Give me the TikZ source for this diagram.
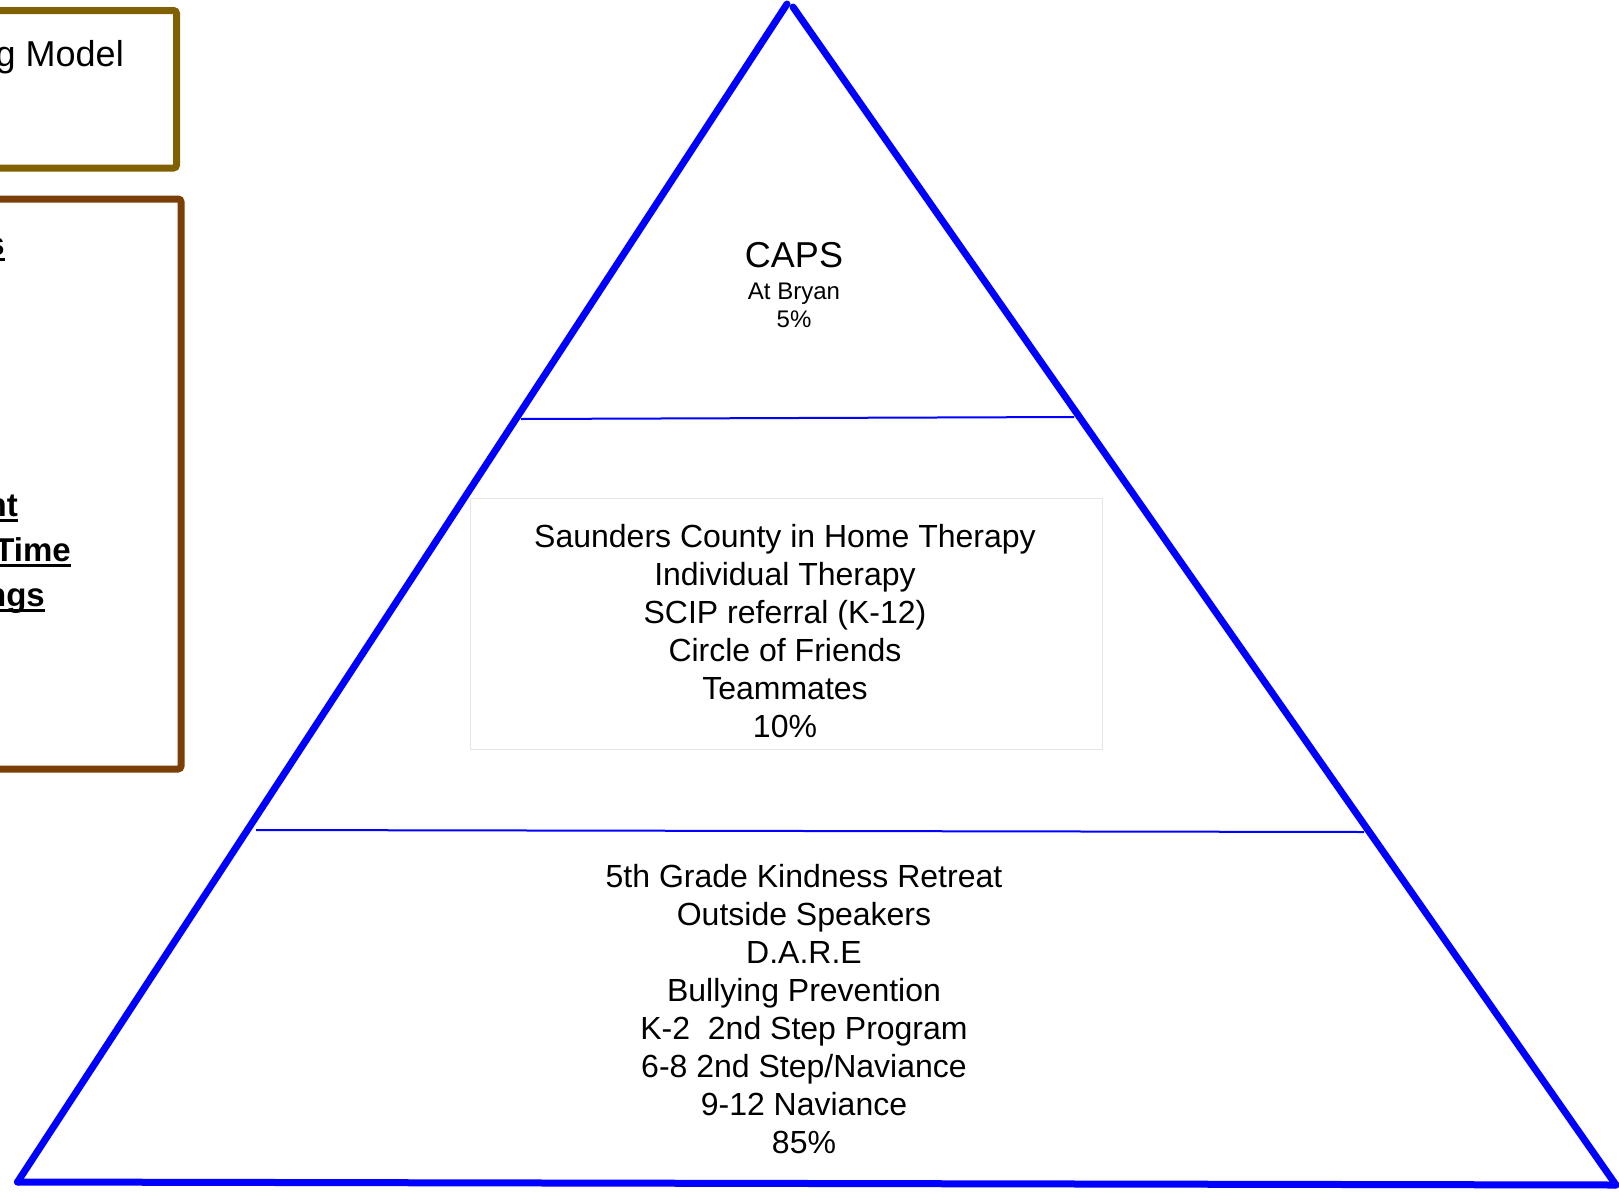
\documentclass[tikz,border=0pt]{standalone}
\usepackage{fontspec}
\setmainfont{Liberation Sans}
\usepackage{xcolor}
\usepackage{tikz}
\usetikzlibrary{positioning}
\definecolor{pyrblue}{RGB}{0, 0, 255}
\definecolor{olivebrown}{RGB}{128, 96, 0}
\definecolor{rustbrown}{RGB}{122, 62, 6}
\definecolor{boxgray}{RGB}{228, 228, 228}
\newcommand{\ulword}[1]{\setbox0\hbox{#1}\rlap{\hskip-40pt\rule[-6pt]{\dimexpr\wd0+40pt\relax}{3pt}}\box0}
\tikzstyle{pyredge} = [
    line width=7pt, 
    draw=pyrblue, 
    line cap=round
]
\tikzstyle{tierline} = [
    line width=2pt, 
    draw=pyrblue
]
\tikzstyle{sidebox} = [
    line width=7pt, 
    rounded corners=3pt
]
\tikzstyle{tiertext} = [
    align=center, 
    inner sep=0pt, 
    font=\fontsize{32}{38}\selectfont
]
\tikzstyle{sidetext} = [
    inner sep=0pt, 
    anchor=base east, 
    font=\fontsize{33}{45}\selectfont\bfseries
]

\begin{document}
\begin{tikzpicture}[x=1pt, y=-1pt]
        \useasboundingbox (0,0) rectangle (1619,1191);
        \clip (0,0) rectangle (1619,1191);

        % boxes cut off by the left edge
        \draw[sidebox, draw=olivebrown] (-40,10.5) rectangle (176.5,168);
        \node[inner sep=0pt, anchor=base east, font=\fontsize{36}{40}\selectfont] (modeltitle) at (124,66) {g Model};
        \draw[sidebox, draw=rustbrown] (-40,199) rectangle (181,769);
        \node[sidetext] (sidehead) at (5,255) {\ulword{s}};
        \node[sidetext] (sideline1) at (18,516) {\ulword{nt}};
        \node[sidetext] (sideline2) at (71,561) {\ulword{Time}};
        \node[sidetext] (sideline3) at (45,606) {\ulword{ngs}};

        % pyramid
        \coordinate (apexl) at (787,4);
        \coordinate (apexr) at (793,7);
        \coordinate (botleft) at (17.5,1182);
        \coordinate (botright) at (1616,1185);
        \draw[pyredge] (botleft) -- (apexl);
        \draw[pyredge] (apexr) -- (botright);
        \draw[pyredge] (botleft) -- (botright);

        \coordinate (topcutl) at (521,419);
        \coordinate (topcutr) at (1074,417);
        \coordinate (midcutl) at (256,830);
        \coordinate (midcutr) at (1364,832);
        \draw[tierline] (topcutl) -- (topcutr);
        \draw[tierline] (midcutl) -- (midcutr);

        % top tier
        \node[inner sep=0pt, font=\fontsize{36}{40}\selectfont] (caps) at (794,255) {CAPS};
        \node[align=center, inner sep=0pt, font=\fontsize{24}{28}\selectfont] (capsnote) at (794,305) {At Bryan\\5\%};

        % middle tier
        \node[draw=boxgray, fill=white, line width=1pt, minimum width=632pt, minimum height=251pt] (midbox) at (786,623.5) {};
        \node[tiertext] (midtext) at (785,631) {Saunders County in Home Therapy\\Individual Therapy\\SCIP referral (K-12)\\Circle of Friends\\Teammates\\10\%};

        % bottom tier
        \node[tiertext] (bottext) at (804,1009) {5th Grade Kindness Retreat\\Outside Speakers\\D.A.R.E\\Bullying Prevention\\K-2~ 2nd Step Program\\6-8 2nd Step/Naviance\\9-12 Naviance\\85\%};
    \end{tikzpicture}
\end{document}
